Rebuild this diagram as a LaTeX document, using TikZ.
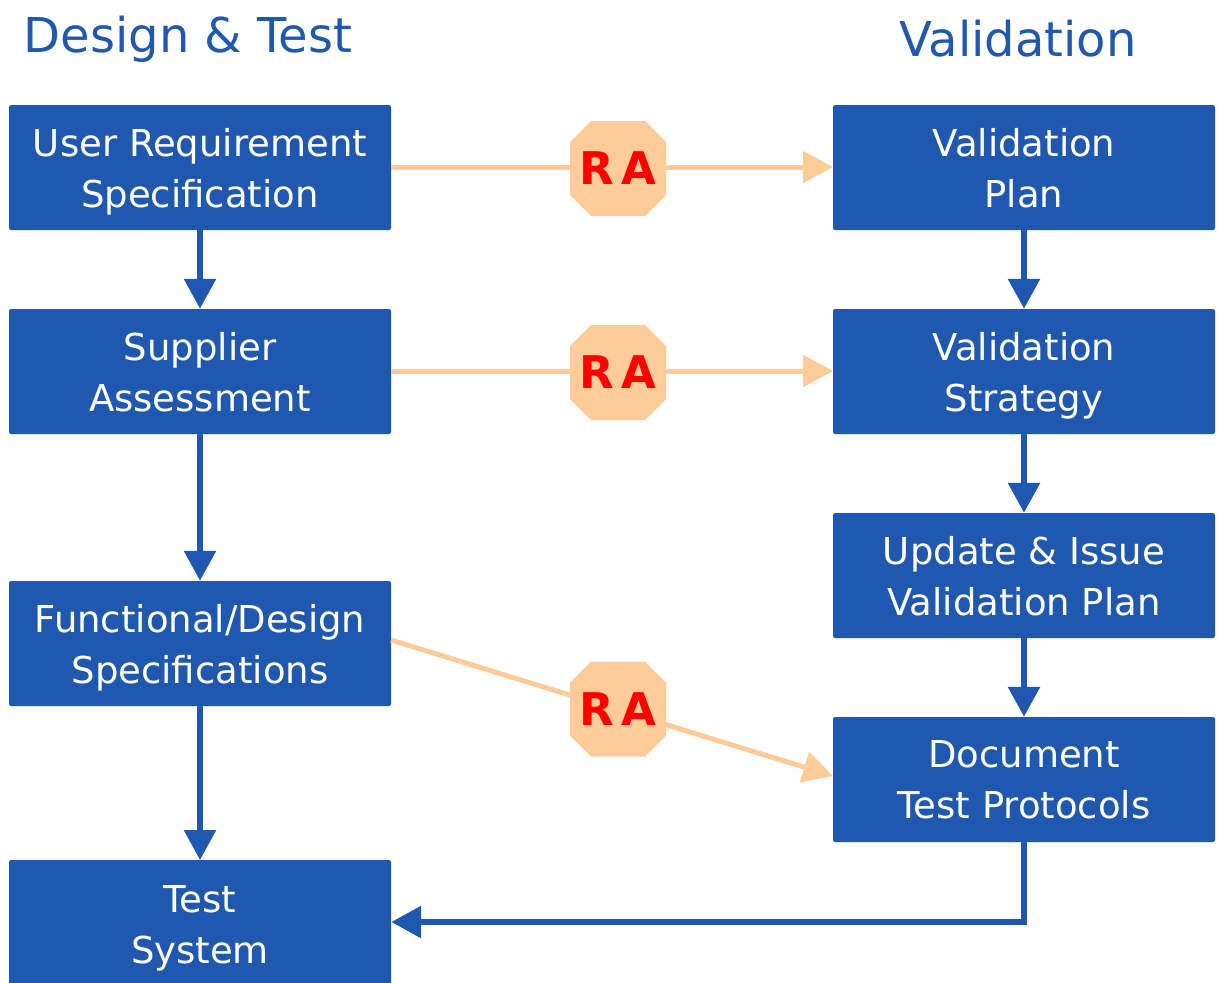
\documentclass[tikz,border=0pt]{standalone}
\usepackage{fontspec}
\setmainfont{DejaVu Sans}
\usetikzlibrary{arrows.meta}
\definecolor{boxblue}{RGB}{31,88,174}
\definecolor{peach}{RGB}{255,204,153}
\definecolor{rared}{RGB}{255,0,0}
\tikzset{
  x=1pt,y=-1pt,
  box/.style={fill=boxblue,rounded corners=2pt,minimum width=382pt,minimum height=125pt,
    text=white,align=center,font=\fontsize{37}{51}\selectfont,inner sep=0pt,text depth=0pt},
  title/.style={text=boxblue,font=\fontsize{48}{60}\selectfont,inner sep=0pt},
  ra/.style={rectangle,minimum width=96pt,minimum height=95pt,inner sep=0pt,text=rared,
    font=\bfseries\fontsize{45}{45}\selectfont},
  octfill/.style={fill=peach},
  blueflow/.style={draw=boxblue,line width=6pt,-{Triangle[length=30pt,width=31pt]}},
  peachflow/.style={draw=peach,line width=5pt,-{Triangle[length=30pt,width=31pt]}},
}
\newcommand\raoct[3]{%
  \fill[octfill] (#2-48+21,#3-47.5) -- (#2+48-21,#3-47.5) -- (#2+48,#3-47.5+21)
    -- (#2+48,#3+47.5-21) -- (#2+48-21,#3+47.5) -- (#2-48+21,#3+47.5)
    -- (#2-48,#3+47.5-21) -- (#2-48,#3-47.5+21) -- cycle;
  \node[ra] (#1) at (#2,#3) {R\kern8pt A};}
\begin{document}
\begin{tikzpicture}
\useasboundingbox (0,0) rectangle (1219,983);
\node[title] (t1) at (188,39) {Design \& Test};
\node[title] (t2) at (1018,39) {Validation};
% left boxes
\node[box] (urs) at (200,167.5) {User Requirement\\Specification};
\node[box] (sa) at (200,371.5) {Supplier\\Assessment};
\node[box] (fds) at (200,643.5) {Functional/Design\\Specifications};
\node[box,minimum height=130pt] (ts) at (200,925) {Test\\System};
% right boxes
\node[box] (vp) at (1024,167.5) {Validation\\Plan};
\node[box] (vs) at (1024,371.5) {Validation\\Strategy};
\node[box] (ui) at (1024,575.5) {Update \& Issue\\Validation Plan};
\node[box] (dtp) at (1024,779.5) {Document\\Test Protocols};
% RA
\coordinate (a1) at (391,167);
\coordinate (b1) at (833,167);
\coordinate (a2) at (391,371);
\coordinate (b2) at (833,371);
\coordinate (a3) at (391,640);
\coordinate (b3) at (833,776);
\draw[peachflow] (a1) -- (b1);
\draw[peachflow] (a2) -- (b2);
\draw[peachflow] (a3) -- (b3);
\raoct{ra1}{618}{168.5}
\raoct{ra2}{618}{372.5}
\raoct{ra3}{618}{709}
% blue arrows
\draw[blueflow] (urs.south) -- (sa.north);
\draw[blueflow] (sa.south) -- (fds.north);
\draw[blueflow] (fds.south) -- (200,860);
\draw[blueflow] (vp.south) -- (vs.north);
\draw[blueflow] (vs.south) -- (ui.north);
\draw[blueflow] (ui.south) -- (dtp.north);
\draw[blueflow] (dtp.south) |- (ts.east |- 0,922);
\end{tikzpicture}
\end{document}
